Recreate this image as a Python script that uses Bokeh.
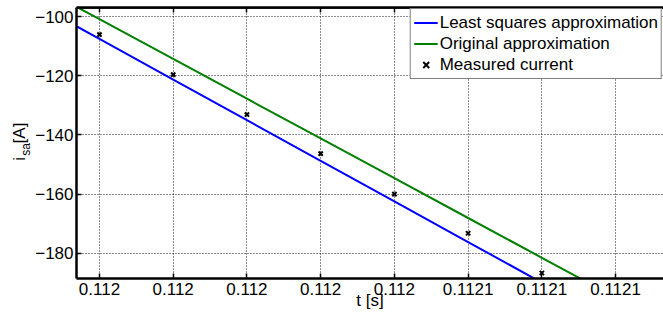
import math
from bokeh.plotting import figure
from bokeh.layouts import row
from bokeh.models import (Range1d, FixedTicker, CustomJSTickFormatter, LinearAxis,
                          Legend, LegendItem, Label, Span)
from bokeh.embed import file_html
from bokeh.resources import INLINE

# ---------------- data ----------------
t_samples = [0.11200, 0.11201, 0.11202, 0.11203, 0.11204, 0.11205, 0.11206]
i_measured = [-106.1, -119.6, -133.1, -146.3, -160.0, -173.2, -186.6]

t_fit = [0.11199, 0.11200, 0.11201, 0.11202, 0.11203, 0.11204,
         0.11205, 0.11206, 0.11207, 0.11208]
i_least_squares = [-93.84, -107.56, -121.28, -135.00, -148.72, -162.44,
                   -176.16, -189.88, -203.60, -217.32]
i_original = [-87.46, -100.89, -114.32, -127.75, -141.18, -154.61,
              -168.04, -181.47, -194.90, -208.33]

x_ticks = [0.11200, 0.11201, 0.11202, 0.11203, 0.11204, 0.11205, 0.11206, 0.11207]
x_tick_labels = ["0.112", "0.112", "0.112", "0.112", "0.112", "0.1121", "0.1121", "0.1121"]
y_ticks = [-180, -160, -140, -120, -100]

x_start, x_end = 0.111996886, 0.112076496
y_start, y_end = -188.47, -96.95

FONT = "Liberation Sans"
FS = "17px"

W, H = 663, 320
LABEL_W = 32
LEFT, TOP, BOTTOM = 75, 7, 42

# ---------------- main figure ----------------
p = figure(width=W - LABEL_W, height=H, output_backend="svg", toolbar_location=None,
           x_range=Range1d(x_start, x_end), y_range=Range1d(y_start, y_end),
           min_border_left=LEFT - LABEL_W, min_border_right=0, min_border_top=TOP,
           min_border_bottom=BOTTOM)
p.outline_line_color = None
p.background_fill_color = "white"
p.border_fill_color = "white"

xticker = FixedTicker(ticks=x_ticks)
yticker = FixedTicker(ticks=y_ticks)
xfmt = CustomJSTickFormatter(args=dict(labels=x_tick_labels, vals=x_ticks), code="""
let best = 0;
for (let i = 0; i < vals.length; i++) {
  if (Math.abs(vals[i] - tick) < Math.abs(vals[best] - tick)) best = i;
}
return labels[best];
""")

def style_axis(ax):
    ax.major_tick_in = 5
    ax.major_tick_out = 0
    ax.minor_tick_line_color = None
    ax.axis_line_color = "black"
    ax.axis_line_width = 2.5
    ax.major_tick_line_color = "black"
    ax.major_tick_line_width = 1.5
    ax.major_label_text_font = FONT
    ax.major_label_text_font_size = FS
    ax.major_label_text_color = "black"

xa = p.xaxis[0]
xa.ticker = xticker
xa.formatter = xfmt
style_axis(xa)
xa.major_label_standoff = 4
xa.axis_label = "t [s]"
xa.axis_label_text_font = FONT
xa.axis_label_text_font_size = FS
xa.axis_label_text_font_style = "normal"
xa.axis_label_text_color = "black"
xa.axis_label_standoff = -7

ya = p.yaxis[0]
ya.ticker = yticker
style_axis(ya)
ya.major_label_standoff = 3

top = LinearAxis(ticker=FixedTicker(ticks=x_ticks))
style_axis(top)
top.major_label_text_font_size = "1px"
top.major_label_text_alpha = 0
top.major_label_standoff = 0
p.add_layout(top, "above")

# top edge of the axes box
p.add_layout(Span(location=y_end, dimension="width", line_color="black", line_width=2.5))

for g in (p.xgrid[0], p.ygrid[0]):
    g.grid_line_color = "black"
    g.grid_line_alpha = 0.9
    g.grid_line_dash = "1 2"
    g.grid_line_width = 1
p.xgrid[0].ticker = xticker
p.ygrid[0].ticker = yticker

# ---------------- glyphs ----------------
r_ls = p.line(t_fit, i_least_squares, line_color="#0000FF", line_width=2)
r_or = p.line(t_fit, i_original, line_color="#008000", line_width=2)
r_me = p.scatter(t_samples, i_measured, marker="x", size=6,
                 line_color="black", line_width=2)

legend = Legend(items=[LegendItem(label="Least squares approximation", renderers=[r_ls]),
                       LegendItem(label="Original approximation", renderers=[r_or]),
                       LegendItem(label="Measured current", renderers=[r_me])],
                location="top_right")
legend.label_text_font = FONT
legend.label_text_font_size = FS
legend.label_text_color = "black"
legend.glyph_width = 24
legend.glyph_height = 21
legend.label_height = 21
legend.label_standoff = 2
legend.spacing = 0
legend.padding = 3
legend.margin = 1
legend.border_line_color = "black"
legend.border_line_width = 1.5
legend.background_fill_color = "white"
legend.background_fill_alpha = 1.0
p.add_layout(legend)

# ---------------- y axis label strip: i_sa [A] ----------------
# strip coordinates are page pixels: x from the left, y from the bottom
lab = figure(width=LABEL_W, height=H, output_backend="svg", toolbar_location=None,
             x_range=Range1d(0, LABEL_W), y_range=Range1d(0, H),
             x_axis_type=None, y_axis_type=None,
             min_border_left=0, min_border_right=0, min_border_top=0, min_border_bottom=0)
lab.outline_line_color = None
lab.grid.visible = False
lab.background_fill_color = "white"
lab.border_fill_color = "white"

for txt, px, py, fs in (("i", 19, 181, FS), ("sa", 25, 175, "12px"), ("[A]", 19, 160.5, FS)):
    lab.add_layout(Label(x=px, y=H - py, x_units="data", y_units="data", text=txt,
                         angle=90, angle_units="deg", text_align="left",
                         text_baseline="alphabetic",
                         text_font=FONT, text_font_size=fs, text_color="black"))

layout = row(lab, p, spacing=0)
open("out.html", "w").write(file_html(layout, INLINE))
